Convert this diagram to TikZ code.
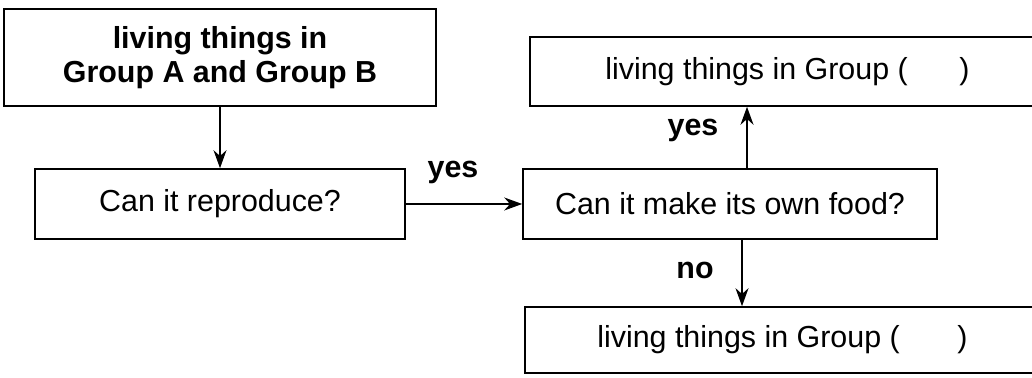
\documentclass[tikz,border=0pt]{standalone}
\usepackage{fontspec}
\setmainfont{Liberation Sans}
\usetikzlibrary{positioning,calc,arrows.meta}
\tikzset{>={Stealth[length=9pt,width=6.5pt]}}

\begin{document}
\begin{tikzpicture}[x=0.5pt,y=-0.5pt,line width=0.8pt,
  box/.style={draw,rectangle,inner sep=0pt,font=\fontsize{15.2pt}{17pt}\selectfont},
  lab/.style={font=\fontsize{15.2pt}{17pt}\selectfont\bfseries}]
% Page size
\useasboundingbox (0,0) rectangle (1032,378);
\clip (0,0) rectangle (1032,378);

% Coordinates of boxes
\coordinate (T) at (220,57.5);
\coordinate (R) at (220,204);
\coordinate (F) at (730,204);
\coordinate (U) at (787.5,71.5);
\coordinate (D) at (782.5,340);

% Draw boxes
\node[box,minimum width=216pt,minimum height=48.5pt,align=center,
  font=\fontsize{15.2pt}{17pt}\selectfont\bfseries] (top) at (T)
  {living things in\\Group A and Group B};
\node[box,minimum width=185pt,minimum height=35pt] (repro) at (R) {Can it reproduce?};
\node[box,minimum width=207pt,minimum height=35pt] (food) at (F) {Can it make its own food?};
\node[box,minimum width=257.5pt,minimum height=34.5pt] (grpup) at (U)
  {living things in Group (\hspace{1.7em})};
\node[box,minimum width=257.5pt,minimum height=33pt] (grpdown) at (D)
  {living things in Group (\hspace{1.9em})};

% Draw arrows
\draw[->] (top.south) -- (repro.north);
\draw[->] (repro.east) -- (food.west);
\draw[->] ([xshift=8.5pt]food.north) -- ([xshift=8.5pt]food.north |- grpup.south);
\draw[->] ([xshift=6pt]food.south) -- ([xshift=6pt]food.south |- grpdown.north);

% Labels
\node[lab] (yes1) at (453,172) {yes};
\node[lab] (yes2) at (693,130) {yes};
\node[lab] (no) at (695,270) {no};
\end{tikzpicture}
\end{document}
